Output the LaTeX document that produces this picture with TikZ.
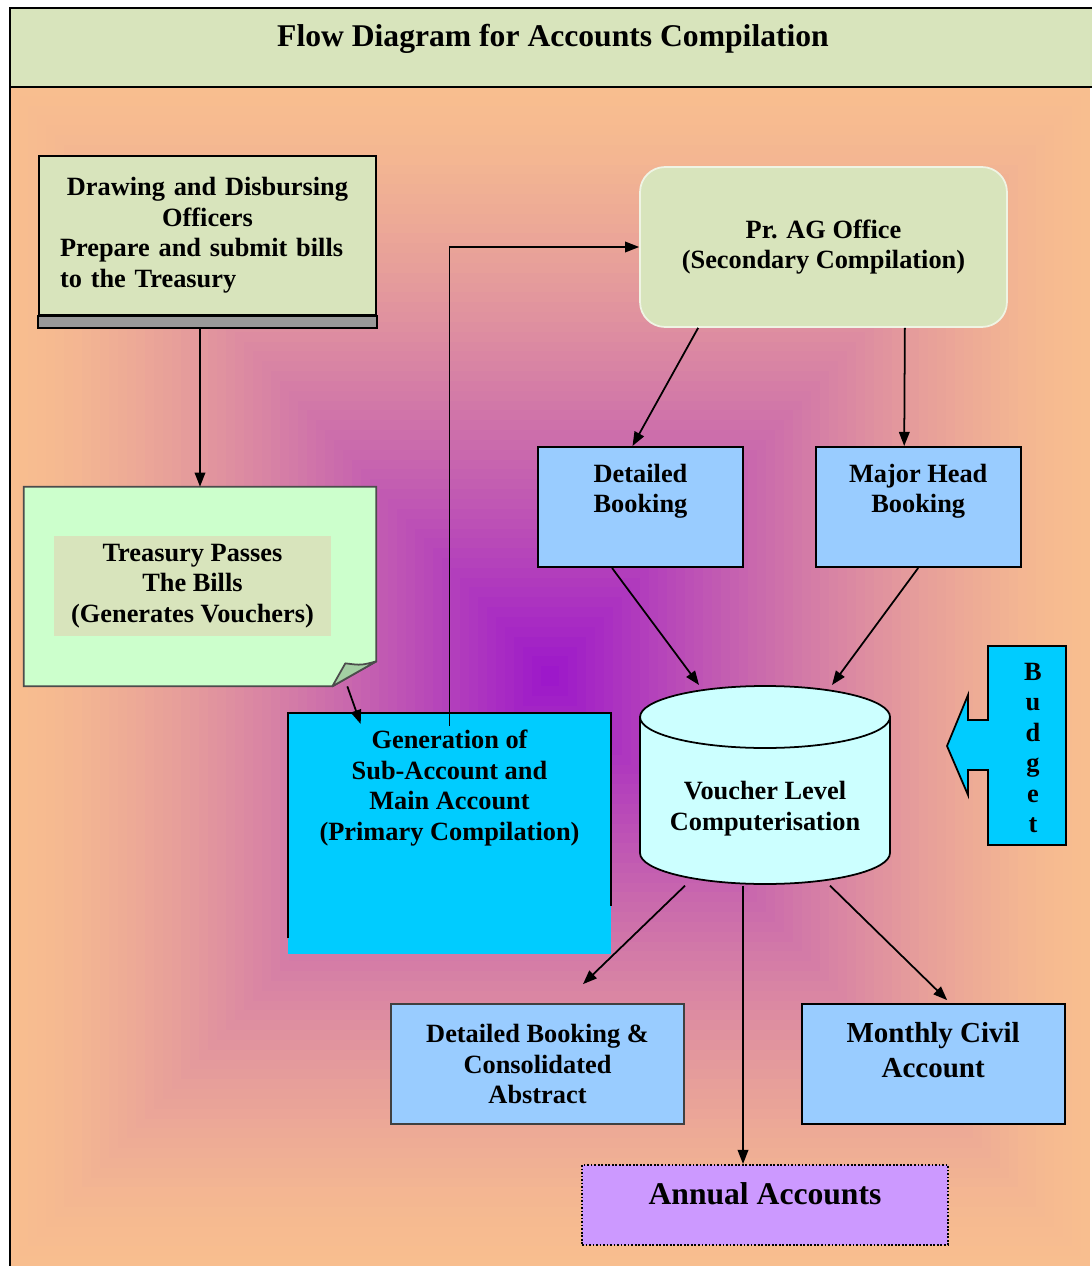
\documentclass[tikz,border=0pt]{standalone}
\usepackage{fontspec}
\setmainfont{Liberation Serif}
\usepackage{tikz}
\usetikzlibrary{shapes,arrows.meta,positioning}

\definecolor{gradpeach}{HTML}{F8BE8F}
\definecolor{gradviolet}{HTML}{9B14CB}
\definecolor{titlegreen}{HTML}{D8E4BC}
\definecolor{notegreen}{HTML}{CCFFCC}
\definecolor{foldgreen}{HTML}{A3CFA3}
\definecolor{skyblue}{HTML}{00CCFF}
\definecolor{paleblue}{HTML}{99CCFF}
\definecolor{palecyan}{HTML}{CCFFFF}
\definecolor{lilac}{HTML}{CC99FF}

\newcommand{\boxfont}{\bfseries\fontsize{15}{17.4}\selectfont}
\newcommand{\bigboxfont}{\bfseries\fontsize{18}{21}\selectfont}

\tikzset{
  block/.style    = {draw, line width=1pt, rectangle, align=center, font=\boxfont},
  topblock/.style = {block, inner ysep=9.8pt, text depth=21pt},
  textpad/.style  = {fill=titlegreen, align=center, font=\boxfont},
  line/.style     = {line width=1pt}
}

\begin{document}
\begin{tikzpicture}[x=0.02cm, y=-0.02cm, >={Triangle[length=8pt,width=6pt]}]
\useasboundingbox (0,0) rectangle (1091,1266);

% Background
\foreach \i in {0,...,60}{
  \pgfmathsetmacro{\f}{1-\i/60}
  \pgfmathsetmacro{\p}{100*(\i/60)^1.4}
  \fill[gradviolet!\p!gradpeach] ({550-540*\f},{676-590*\f}) rectangle ({550+540*\f},{676+590*\f});
}
\fill[titlegreen] (10,8) rectangle (1100,87);
\draw[line] (10,1290) |- (1100,8) (10,87) -- (1100,87);
\node[font=\bigboxfont] (title) at (553,39) {Flow Diagram for Accounts Compilation};

% Officers
\node[block, fill=titlegreen, text width=5.9cm, inner xsep=0.42cm, align=left,
      minimum height=3.18cm, anchor=north] (ddo) at (207.5,155)
      {{\centering Drawing and Disbursing\\Officers\par}Prepare and submit bills\\to the Treasury};
\draw[line, fill=gray!80] (ddo.south west) rectangle ([yshift=-0.25cm]ddo.south east);
\coordinate (ddobar) at ([yshift=-0.25cm]ddo.south);

% Treasury
\node[minimum width=7.04cm, minimum height=3.98cm] (treas) at (200,586.5) {};
\draw[line, draw=black!70, fill=notegreen] (treas.north west) -- (treas.north east)
  -- ([yshift=0.5cm]treas.south east) -- ([xshift=-0.88cm]treas.south east) -- (treas.south west) -- cycle;
\draw[line, draw=black!70, fill=foldgreen, line join=round] ([xshift=-0.88cm]treas.south east)
  -- ([xshift=-0.62cm,yshift=0.46cm]treas.south east)
  .. controls ([xshift=-0.3cm,yshift=0.42cm]treas.south east) .. ([yshift=0.5cm]treas.south east) -- cycle;
\node[textpad, minimum width=5.54cm, minimum height=2cm] (treastext) at (192.5,586)
  {Treasury Passes\\The Bills\\(Generates Vouchers)};

% Primary compilation
\node[fill=skyblue, align=center, font=\boxfont, minimum width=6.46cm,
      inner ysep=9.6pt, text depth=55pt, anchor=north] (gen) at (449.5,713)
      {Generation of\\Sub-Account and\\Main Account\\(Primary Compilation)};
\draw[line] ([yshift=0.32cm]gen.south west) -- (gen.north west) -- (gen.north east) -- ([yshift=0.96cm]gen.south east);

% Secondary compilation
\node[block, fill=titlegreen, draw=titlegreen!40, rounded corners=0.5cm,
      minimum width=7.34cm, minimum height=3.2cm] (prag) at (823.5,247)
      {Pr. AG Office\\(Secondary Compilation)};
\node[topblock, fill=paleblue, minimum width=4.1cm, anchor=north] (det) at (640.5,446) {Detailed\\Booking};
\node[topblock, fill=paleblue, minimum width=4.1cm, right=1.42cm of det] (major) {Major Head\\Booking};

% Voucher level
\filldraw[line, fill=palecyan] (640,717) -- (640,853)
  arc[start angle=180, end angle=360, x radius=2.5cm, y radius=0.62cm] -- (890,717)
  arc[start angle=0, end angle=180, x radius=2.5cm, y radius=0.62cm] -- cycle;
\draw[line] (640,717) arc[start angle=180, end angle=360, x radius=2.5cm, y radius=0.62cm];
\node[align=center, font=\boxfont, minimum width=5cm, inner ysep=0pt,
      text height=82.5pt, text depth=31.3pt, anchor=north] (cyl) at (765,685)
      {Voucher Level\\Computerisation};

% Budget
\filldraw[line, fill=skyblue] (988,646) -- (1066,646) -- (1066,845) -- (988,845) -- (988,770)
  -- (968,770) -- (968,795) -- (947,746) -- (968,695) -- (968,720) -- (988,720) -- cycle;
\node[font=\boxfont, align=center] (budget) at (1033,748) {B\\u\\d\\g\\e\\t};

% Outputs
\node[block, fill=paleblue, draw=black!75, minimum width=5.86cm, minimum height=2.4cm] (dba) at (537.5,1064)
  {Detailed Booking \&\\Consolidated\\Abstract};
\node[block, fill=paleblue, font=\bfseries\fontsize{16.5}{19.9}\selectfont, minimum width=5.26cm,
      inner ysep=10.2pt, text depth=16.5pt, right=2.32cm of dba] (mca) {Monthly Civil\\Account};
\node[draw, densely dotted, line width=1pt, fill=lilac, font=\bigboxfont, minimum width=7.32cm,
      inner ysep=10.2pt, text depth=12.5pt, anchor=north] (annual) at (765,1164) {Annual Accounts};

% Connections
\draw[->, line] (treas.north |- ddobar) -- (treas.north);
\draw[->, line] ([xshift=-0.58cm]treas.south east) -- ([xshift=1.46cm,yshift=-0.22cm]gen.north west);
\draw[->, line] ([yshift=-0.26cm]gen.north) |- (prag.west);
\draw[->, line] ([xshift=1.18cm]prag.south west) -- ([xshift=-0.16cm]det.north);
\draw[->, line] ([xshift=-2.06cm]prag.south east) -- ([xshift=-0.28cm]major.north);
\draw[->, line] ([xshift=-0.57cm]det.south) -- ([xshift=-1.32cm]cyl.north);
\draw[->, line] (major.south) -- ([xshift=1.34cm]cyl.north);
\draw[->, line] ([xshift=-1.6cm]cyl.south) -- ([xshift=0.91cm,yshift=0.38cm]dba.north);
\draw[->, line] ([xshift=-0.44cm]cyl.south) -- ([xshift=-0.44cm]annual.north);
\draw[->, line] ([xshift=1.3cm]cyl.south) -- ([xshift=0.28cm,yshift=0.06cm]mca.north);

\end{tikzpicture}
\end{document}
